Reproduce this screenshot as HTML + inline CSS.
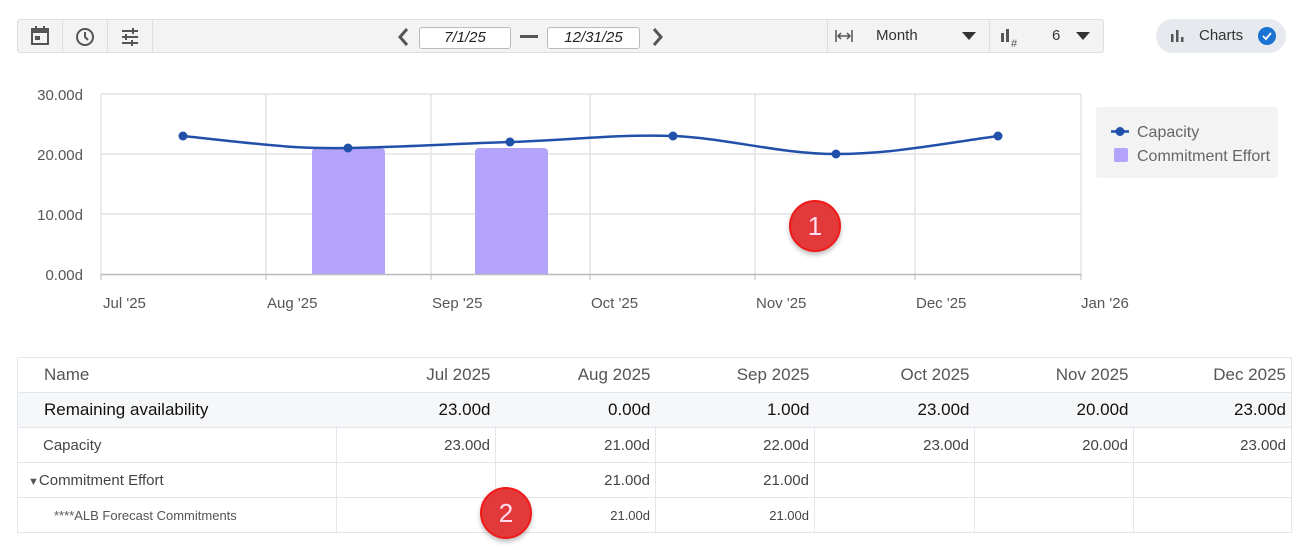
<!DOCTYPE html>
<html><head><meta charset="utf-8"><style>
*{box-sizing:border-box;margin:0;padding:0}
body{width:1304px;height:550px;background:#fff;font-family:"Liberation Sans",sans-serif;position:relative;overflow:hidden;color:#333}
.abs{position:absolute}
.tb{left:17px;top:19px;width:1087px;height:34px;background:#f3f3f3;border:1px solid #dedede;border-radius:3px}
.cell{position:absolute;top:0;height:32px;border-right:1px solid #dedede}
.inp{position:absolute;top:7px;height:22px;background:#fff;border:1px solid #bbb;border-radius:3px;font-style:italic;font-size:15px;text-align:center;line-height:20px;color:#222}
.pill{left:1156px;top:19px;width:130px;height:34px;background:#e6e9ed;border-radius:17px}
.badge{width:52px;height:52px;border-radius:50%;background:#e2393a;border:2px solid #f01a1a;color:#fde;font-size:26px;text-align:center;line-height:48px;box-shadow:0 3px 5px rgba(0,0,0,.25)}
table{position:absolute;left:17px;top:357px;width:1275px;border-collapse:collapse;border:1px solid #e3e6ea;font-size:16px}
td{height:35px;border-top:1px solid #e3e6ea;text-align:right;padding-right:5px;color:#444;font-size:15px}
td+td{border-left:1px solid #e3e6ea}
tr.h td{color:#555;font-size:17px;border-left:none;border-top:none}
tr.r td{background:#f6f7f9;color:#111;font-size:17px;border-left:none}
td:first-child{text-align:left;padding-left:26px}
</style></head><body>
<div class="abs tb">
 <div class="cell" style="left:0;width:45px"><svg width="45" height="32"><rect x="14" y="9" width="16" height="15" fill="none" stroke="#555" stroke-width="2"/><rect x="14" y="9" width="16" height="4" fill="#555"/><rect x="17" y="16" width="5" height="4" fill="#555"/><rect x="17" y="6" width="2" height="4" fill="#555"/><rect x="25" y="6" width="2" height="4" fill="#555"/></svg></div>
 <div class="cell" style="left:45px;width:45px"><svg width="45" height="32"><circle cx="22" cy="17" r="8" fill="none" stroke="#555" stroke-width="2"/><path d="M22 12v5l3 3" stroke="#555" stroke-width="2" fill="none"/></svg></div>
 <div class="cell" style="left:90px;width:45px"><svg width="45" height="32"><path d="M14 11h16M14 17h16M14 23h16" stroke="#555" stroke-width="2"/><path d="M25 8v6M18 14v6M24 20v6" stroke="#555" stroke-width="2"/></svg></div>
 <svg class="abs" style="left:376px;top:6px" width="20" height="22"><path d="M13 3l-7 8 7 8" stroke="#555" stroke-width="3" fill="none"/></svg>
 <div class="inp" style="left:401px;width:92px">7/1/25</div>
 <div class="abs" style="left:502px;top:15px;width:18px;height:3px;background:#555"></div>
 <div class="inp" style="left:529px;width:93px">12/31/25</div>
 <svg class="abs" style="left:630px;top:6px" width="20" height="22"><path d="M6 3l7 8-7 8" stroke="#555" stroke-width="3" fill="none"/></svg>
 <div class="cell" style="left:809px;width:163px;border-left:1px solid #dedede">
  <svg class="abs" style="left:6px;top:8px" width="20" height="16"><path d="M2 2v12M18 2v12M4 8h12M7 5l-3 3 3 3M13 5l3 3-3 3" stroke="#555" stroke-width="1.5" fill="none"/></svg>
  <span class="abs" style="left:48px;top:7px;font-size:15px;color:#333">Month</span>
  <svg class="abs" style="left:134px;top:12px" width="14" height="9"><path d="M0 0h14L7 8z" fill="#333"/></svg>
 </div>
 <div class="cell" style="left:972px;width:114px;border-right:none">
  <svg class="abs" style="left:10px;top:7px" width="22" height="22"><rect x="1" y="6" width="3" height="9" fill="#555"/><rect x="6" y="2" width="3" height="13" fill="#555"/><text x="11" y="20" font-size="11" fill="#555" font-family="Liberation Sans">#</text></svg>
  <span class="abs" style="left:62px;top:7px;font-size:15px">6</span>
  <svg class="abs" style="left:86px;top:12px" width="14" height="9"><path d="M0 0h14L7 8z" fill="#333"/></svg>
 </div>
</div>
<div class="abs pill">
 <svg class="abs" style="left:15px;top:11px" width="14" height="12"><rect x="0" y="4" width="2.5" height="8" fill="#555"/><rect x="5" y="0" width="2.5" height="12" fill="#555"/><rect x="10" y="7" width="2.5" height="5" fill="#555"/></svg>
 <span class="abs" style="left:43px;top:8px;font-size:15px;color:#333">Charts</span>
 <div class="abs" style="left:102px;top:8px;width:18px;height:18px;border-radius:50%;background:#1a73d1"><svg width="18" height="18"><path d="M5 9l3 3 5-6" stroke="#fff" stroke-width="1.8" fill="none"/></svg></div>
</div>
<svg class="abs" style="left:0;top:0" width="1304" height="340" font-family="Liberation Sans" font-size="15" fill="#555">
 <g stroke="#e3e3e3" stroke-width="1.5">
  <path d="M101 94H1081M101 154H1081M101 214H1081"/>
  <path d="M101 94V274M266 94V274M431 94V274M590 94V274M755 94V274M915 94V274M1081 94V274"/>
 </g>
 <path d="M101 274.5H1081" stroke="#bbb" stroke-width="1.5"/>
 <g fill="#555">
  <path d="M101 274v6M266 274v6M431 274v6M590 274v6M755 274v6M915 274v6M1081 274v6" stroke="#bbb"/>
 </g>
 <g text-anchor="end"><text x="83" y="100">30.00d</text><text x="83" y="160">20.00d</text><text x="83" y="220">10.00d</text><text x="83" y="280">0.00d</text></g>
 <g><text x="103" y="308">Jul '25</text><text x="267" y="308">Aug '25</text><text x="432" y="308">Sep '25</text><text x="591" y="308">Oct '25</text><text x="756" y="308">Nov '25</text><text x="916" y="308">Dec '25</text><text x="1081" y="308">Jan '26</text></g>
 <path d="M312 274V152a4 4 0 0 1 4-4h65a4 4 0 0 1 4 4V274z" fill="#b3a3fb"/>
 <path d="M475 274V152a4 4 0 0 1 4-4h65a4 4 0 0 1 4 4V274z" fill="#b3a3fb"/>
 <path d="M183 136C260 144 290 149 348 148S450 144 510 142S620 134 673 136S780 154 836 154S940 144 998 136" stroke="#2150aa" stroke-width="2.5" fill="none"/>
 <g fill="#2150aa"><circle cx="183" cy="136" r="4.5"/><circle cx="348" cy="148" r="4.5"/><circle cx="510" cy="142" r="4.5"/><circle cx="673" cy="136" r="4.5"/><circle cx="836" cy="154" r="4.5"/><circle cx="998" cy="136" r="4.5"/></g>
 <rect x="1096" y="107" width="182" height="71" rx="3" fill="#f3f3f3"/>
 <path d="M1111 131.5h18" stroke="#2150aa" stroke-width="2.5"/><circle cx="1120" cy="131.5" r="4.5" fill="#2150aa"/>
 <rect x="1114" y="148" width="14" height="14" rx="2" fill="#b3a3fb"/>
 <text x="1137" y="137" fill="#666" font-size="16">Capacity</text>
 <text x="1137" y="161" fill="#666" font-size="16">Commitment Effort</text>
</svg>
<div class="abs badge" style="left:789px;top:200px">1</div>
<table>
<tr class="h"><td>Name</td><td style="width:159px">Jul 2025</td><td style="width:160px">Aug 2025</td><td style="width:159px">Sep 2025</td><td style="width:160px">Oct 2025</td><td style="width:159px">Nov 2025</td><td style="width:158px">Dec 2025</td></tr>
<tr class="r"><td>Remaining availability</td><td>23.00d</td><td>0.00d</td><td>1.00d</td><td>23.00d</td><td>20.00d</td><td>23.00d</td></tr>
<tr><td style="padding-left:25px">Capacity</td><td>23.00d</td><td>21.00d</td><td>22.00d</td><td>23.00d</td><td>20.00d</td><td>23.00d</td></tr>
<tr><td style="padding-left:10px"><span style="font-size:11px;color:#555">▼</span>Commitment Effort</td><td></td><td>21.00d</td><td>21.00d</td><td></td><td></td><td></td></tr>
<tr><td style="padding-left:36px;font-size:13px;color:#555">****ALB Forecast Commitments</td><td></td><td style="font-size:13px">21.00d</td><td style="font-size:13px">21.00d</td><td></td><td></td><td></td></tr>
</table>
<div class="abs badge" style="left:480px;top:487px">2</div>
</body></html>
